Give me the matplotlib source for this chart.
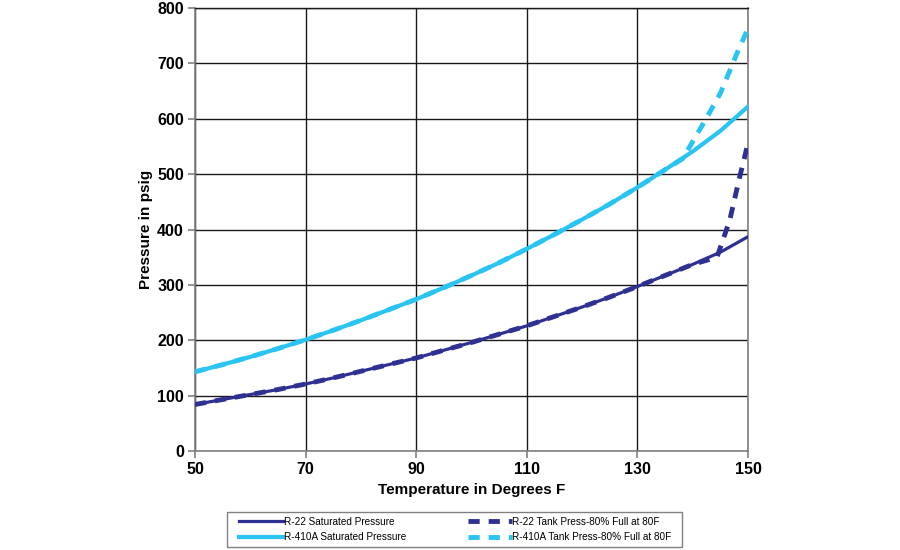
import matplotlib
matplotlib.use("Agg")
import matplotlib.pyplot as plt
from matplotlib.patches import Rectangle

plt.rcParams['font.family'] = ['Liberation Sans', 'DejaVu Sans']

temps = [50, 55, 60, 65, 70, 75, 80, 85, 90, 95, 100, 105, 110, 115, 120, 125, 130, 135, 140, 145, 150]
r22_sat = [84, 93, 102, 111, 121, 132, 144, 156, 168, 182, 196, 211, 226, 243, 260, 278, 297, 317, 337, 359, 387]
r410a_sat = [143, 156, 170, 185, 201, 218, 236, 255, 274, 295, 317, 340, 365, 391, 418, 446, 476, 508, 541, 578, 622]

r22_tank_t = [50, 55, 60, 65, 70, 75, 80, 85, 90, 95, 100, 105, 110, 115, 120, 125, 130, 135, 140, 144.4, 146.7, 148.5, 150]
r22_tank_p = [84, 93, 102, 111, 121, 132, 144, 156, 168, 182, 196, 211, 226, 243, 260, 278, 297, 317, 337, 350, 417, 495, 556]
r410a_tank_t = [50, 55, 60, 65, 70, 75, 80, 85, 90, 95, 100, 105, 110, 115, 120, 125, 130, 135, 138.2, 142.6, 145, 148, 150]
r410a_tank_p = [143, 156, 170, 185, 201, 218, 236, 255, 274, 295, 317, 340, 365, 391, 418, 446, 476, 508, 528, 603, 646, 718, 763]

navy = '#2E3192'
cyan = '#29C4F2'

fig = plt.figure(figsize=(9, 5.5), dpi=100)
ax = fig.add_axes([195/900, 1 - 451/550, (748-195)/900, (451-8)/550])

l1, = ax.plot(temps, r22_sat, color=navy, lw=2.3, label='R-22 Saturated Pressure', zorder=3)
l2, = ax.plot(temps, r410a_sat, color=cyan, lw=3.0, label='R-410A Saturated Pressure', zorder=3)
l3, = ax.plot(r22_tank_t, r22_tank_p, color=navy, lw=3.5, ls=(0, (2.3, 1.85)), label='R-22 Tank Press-80% Full at 80F', zorder=4)
l4, = ax.plot(r410a_tank_t, r410a_tank_p, color=cyan, lw=3.5, ls=(0, (2.3, 1.85)), label='R-410A Tank Press-80% Full at 80F', zorder=4)

ax.set_xlim(50, 150)
ax.set_ylim(0, 800)
ax.set_xticks([50, 70, 90, 110, 130, 150])
ax.set_yticks(range(0, 801, 100))
ax.grid(True, color='#1a1a1a', lw=1.0)
ax.set_axisbelow(True)
for s in ['left', 'bottom', 'right']:
    ax.spines[s].set_color('#808080')
    ax.spines[s].set_linewidth(1.2)
ax.spines['top'].set_color('#1a1a1a')
ax.spines['top'].set_linewidth(1.0)
ax.tick_params(axis='both', direction='out', length=5, color='#808080', width=1.2,
               labelsize=11.5)
for lab in ax.get_xticklabels() + ax.get_yticklabels():
    lab.set_fontweight('bold')
ax.tick_params(axis='y', pad=3)
ax.tick_params(axis='x', pad=3)

ax.set_xlabel('Temperature in Degrees F', fontsize=11, fontweight='bold', labelpad=4)
ax.set_ylabel('Pressure in psig', fontsize=11, fontweight='bold', labelpad=3)

# legend box
fig.patches.append(Rectangle((227/900, 1 - 547/550), (682-227)/900, 35/550,
                             transform=fig.transFigure, facecolor='white',
                             edgecolor='#808080', lw=1.0, zorder=0))

leg = fig.legend(handles=[l1, l2, l3, l4], ncol=2, loc='center',
                 bbox_to_anchor=(455.5/900, 1 - 529.5/550), fontsize=7.2,
                 frameon=False, handlelength=4.4, handletextpad=0.05,
                 columnspacing=6.2, labelspacing=0.55, borderpad=0.0,
                 borderaxespad=0)

fig.savefig('out.png', dpi=100)
